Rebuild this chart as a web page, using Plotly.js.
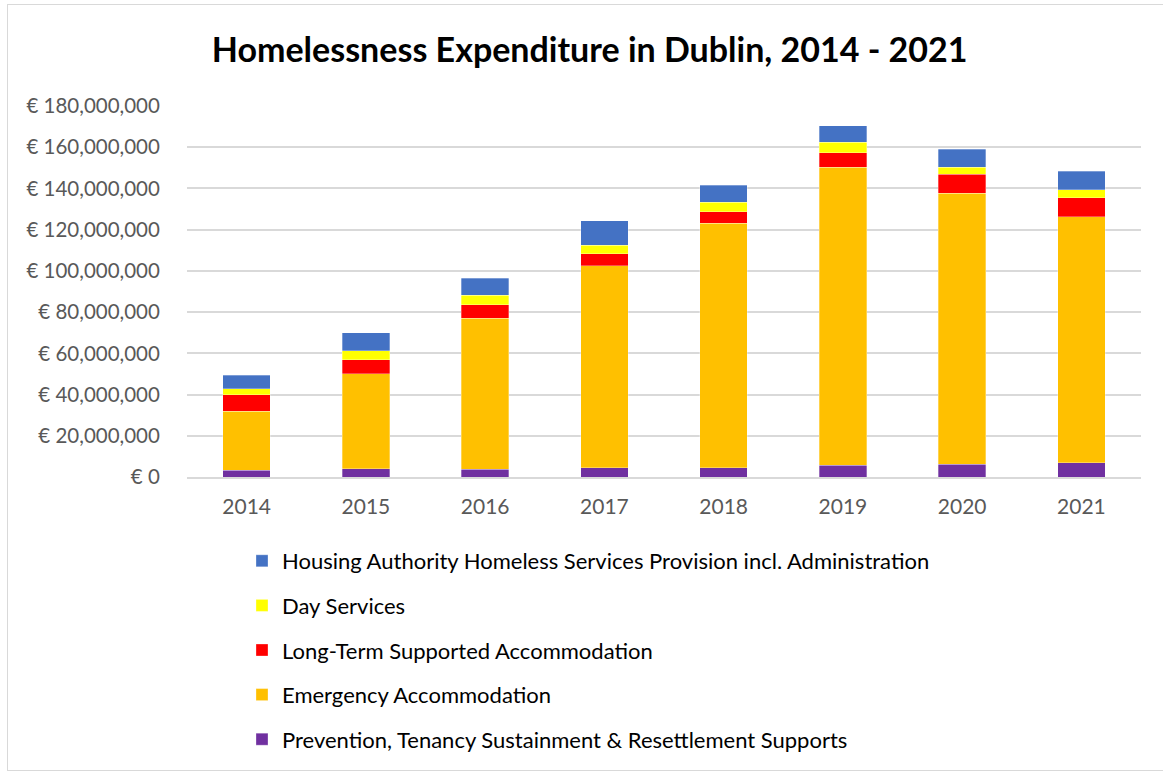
<!DOCTYPE html>
<html>
<head>
<meta charset="utf-8">
<script src="https://cdn.plot.ly/plotly-3.0.1.min.js"></script>
<style>
  html, body { margin: 0; padding: 0; background: #fff; }
  #wrap { position: relative; width: 1163px; height: 773px; overflow: hidden; }
  #chart { position: absolute; left: 0; top: 0; width: 1163px; height: 773px; }
  #frame { position: absolute; left: 7px; top: 4px; width: 1170px; height: 765px;
           border: 1px solid #d9d9d9; pointer-events: none; }
</style>
</head>
<body>
<div id="wrap">
  <div id="chart"></div>
  <div id="frame"></div>
</div>
<script>
const years = ['2014', '2015', '2016', '2017', '2018', '2019', '2020', '2021'];

// Values in euro
const prevention = [3300000, 4100000, 3700000, 4400000, 4400000, 5700000, 6300000, 6800000];
const emergency  = [28700000, 45900000, 73300000, 98000000, 118800000, 144600000, 131400000, 119400000];
const longTerm   = [8000000, 7000000, 6500000, 5900000, 5400000, 7000000, 9100000, 9400000];
const dayServices = [2700000, 4200000, 4600000, 4200000, 4600000, 5200000, 3500000, 3700000];
const housingAuthority = [6700000, 8900000, 8400000, 11900000, 8300000, 7900000, 8800000, 9100000];

const seriesNames = [
  'Prevention, Tenancy Sustainment & Resettlement Supports',
  'Emergency Accommodation',
  'Long-Term Supported Accommodation',
  'Day Services',
  'Housing Authority Homeless Services Provision incl. Administration'
];
const seriesValues = [prevention, emergency, longTerm, dayServices, housingAuthority];
const seriesColors = ['#7030A0', '#FFC000', '#FF0000', '#FFFF00', '#4472C4'];

const yTicks = [0, 20000000, 40000000, 60000000, 80000000, 100000000, 120000000, 140000000, 160000000, 180000000];
const yTickText = yTicks.map(v => '€ ' + v.toLocaleString('en-US'));

const FONT = 'Lato, "Open Sans", sans-serif';

const traces = seriesNames.map((name, i) => ({
  type: 'bar',
  name: name,
  x: years,
  y: seriesValues[i],
  legendgroup: 'g' + i,
  legendrank: seriesNames.length - i,
  marker: { color: seriesColors[i], line: { color: 'rgba(255,255,255,0.6)', width: 0.5 } },
  hovertemplate: '%{x}: € %{y:,.0f}<extra>' + name + '</extra>'
}));

const layout = {
  width: 1163,
  height: 773,
  paper_bgcolor: '#ffffff',
  plot_bgcolor: '#ffffff',
  barmode: 'stack',
  bargap: 0.6,
  margin: { l: 186.5, r: 22.3, t: 106, b: 296.3, pad: 0, autoexpand: false },
  title: {
    text: '<b>Homelessness Expenditure in Dublin, 2014 - 2021</b>',
    font: { family: FONT, size: 34, color: '#000000' },
    xref: 'container', x: 0.507, xanchor: 'center',
    yref: 'container', y: 1 - 50 / 773, yanchor: 'middle'
  },
  xaxis: {
    type: 'category',
    showgrid: false,
    showline: true,
    linecolor: '#d9d9d9',
    linewidth: 1.5,
    ticks: 'outside',
    ticklen: 10,
    tickcolor: 'rgba(0,0,0,0)',
    tickfont: { family: FONT, size: 21, color: '#595959' },
    zeroline: false
  },
  yaxis: {
    range: [0, 180000000],
    tickvals: yTicks,
    ticktext: yTickText,
    showgrid: true,
    gridcolor: '#d9d9d9',
    gridwidth: 1.5,
    zeroline: false,
    showline: false,
    ticks: 'outside',
    ticklen: 22,
    tickcolor: 'rgba(0,0,0,0)',
    tickfont: { family: FONT, size: 20.5, color: '#595959' }
  },
  showlegend: true,
  legend: {
    orientation: 'v',
    traceorder: 'grouped',
    tracegroupgap: 13,
    xref: 'container',
    yref: 'container',
    x: 242 / 1163,
    xanchor: 'left',
    y: 1 - 540 / 773,
    yanchor: 'top',
    font: { family: FONT, size: 22, color: '#000000' },
    bgcolor: 'rgba(0,0,0,0)',
    itemclick: false
  },
  hovermode: 'closest'
};

Plotly.newPlot('chart', traces, layout, { displayModeBar: false });
</script>
</body>
</html>
